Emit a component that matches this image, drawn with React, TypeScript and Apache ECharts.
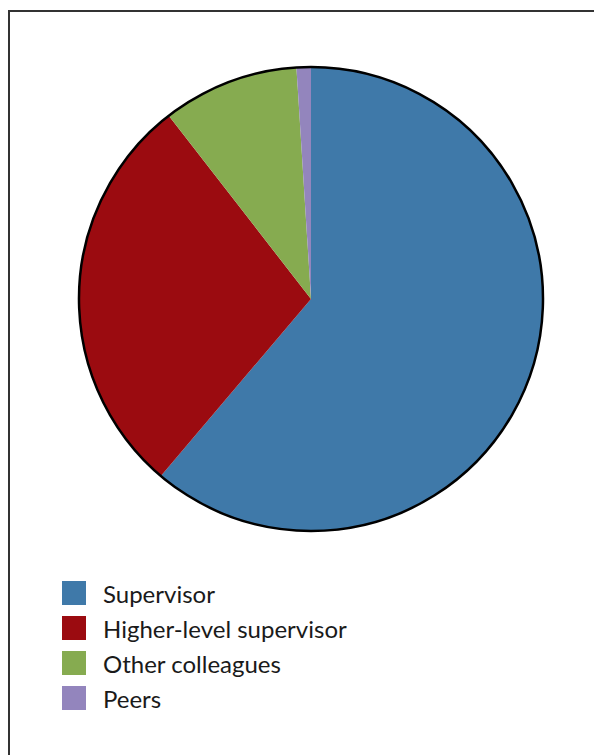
import React, { useEffect, useRef } from "react";
import * as echarts from "echarts";

const categories = ["Supervisor", "Higher-level supervisor", "Other colleagues", "Peers"];
const values = [61.2, 28.3, 9.5, 1.0];
const colors = ["#3F79A9", "#9B0B10", "#86AB50", "#9385BD"];

export default function App() {
  const ref = useRef<HTMLDivElement>(null);
  useEffect(() => {
    document.body.style.overflow = "hidden";
    const chart = echarts.init(ref.current!, null, { renderer: "svg" });
    chart.setOption({
      animation: false,
      legend: {
        data: categories,
        orient: "vertical",
        left: 52,
        top: 569,
        padding: 0,
        itemWidth: 24,
        itemHeight: 24,
        itemGap: 11,
        icon: "rect",
        selectedMode: false,
        textStyle: {
          fontFamily: "Lato",
          fontSize: 24,
          color: "#1a1a1a",
          padding: [0, 0, 0, 12],
        },
      },
      series: [
        {
          type: "pie",
          silent: true,
          center: [301, 287],
          radius: 232,
          startAngle: 90,
          label: { show: false },
          labelLine: { show: false },
          itemStyle: { borderWidth: 0 },
          data: categories.map((name, i) => ({
            name,
            value: values[i],
            itemStyle: { color: colors[i] },
          })),
        },
        {
          type: "pie",
          silent: true,
          center: [301, 287],
          radius: 232,
          label: { show: false },
          labelLine: { show: false },
          itemStyle: { color: "transparent", borderColor: "#000", borderWidth: 2.5 },
          data: [{ name: "outline", value: 1 }],
        },
      ],
    });
    return () => chart.dispose();
  }, []);
  return (
    <div
      style={{
        marginTop: 2,
        borderTop: "2px solid #333",
        borderLeft: "2px solid #333",
        width: 592,
        height: 760,
        boxSizing: "content-box",
      }}
    >
      <div ref={ref} style={{ width: 592, height: 735 }} />
    </div>
  );
}
